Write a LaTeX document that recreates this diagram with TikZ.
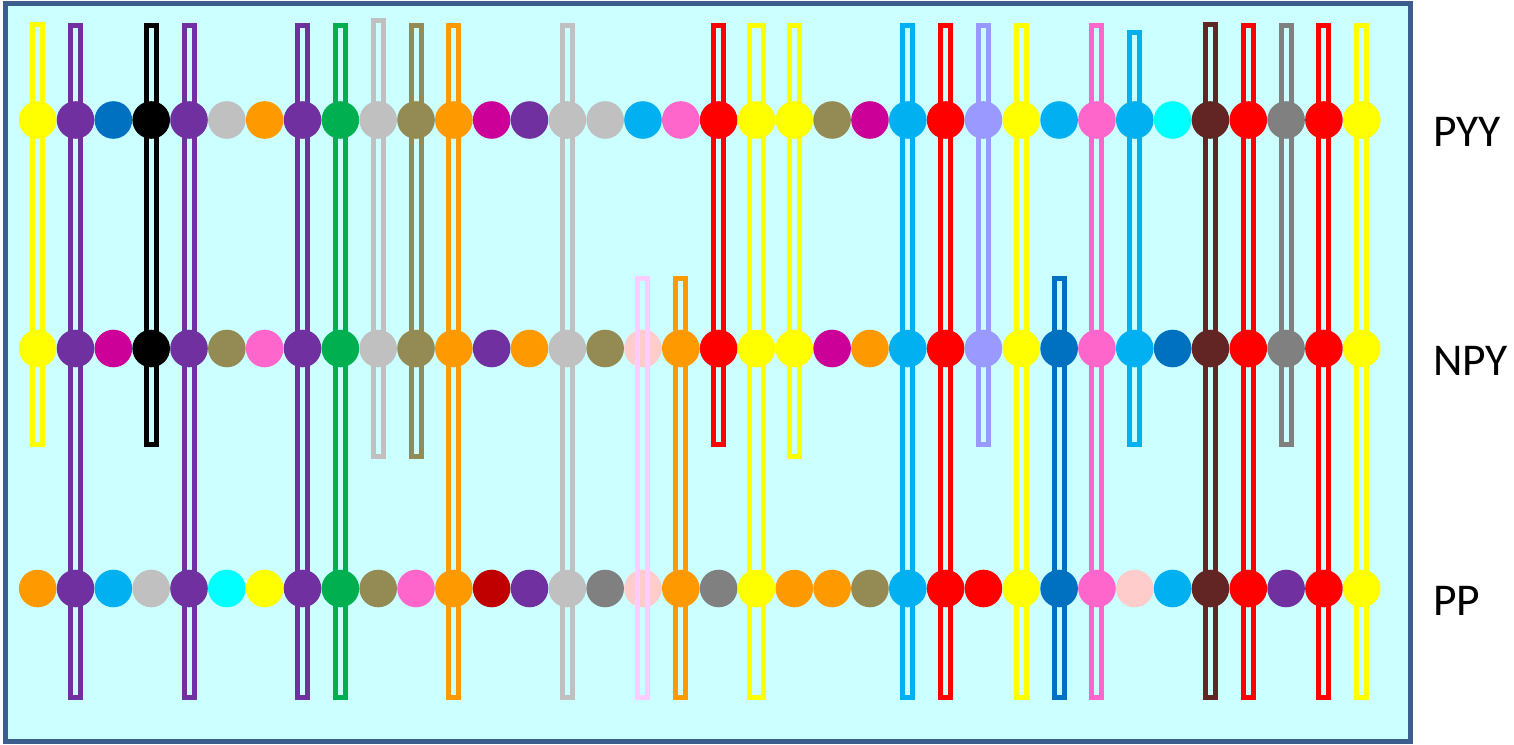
\documentclass[tikz,border=0pt]{standalone}
\usepackage{xcolor}
\usepackage{fontspec}
\setmainfont{Carlito}
\usepackage{tikz}
\usetikzlibrary{positioning}

\definecolor{bgcol}{HTML}{CCFFFF}
\definecolor{framecol}{HTML}{3B5E8C}
\definecolor{yel}{HTML}{FFFF00}
\definecolor{pur}{HTML}{7030A0}
\definecolor{blu}{HTML}{0070C0}
\definecolor{blk}{HTML}{000000}
\definecolor{sil}{HTML}{C0C0C0}
\definecolor{org}{HTML}{FF9900}
\definecolor{grn}{HTML}{00B050}
\definecolor{olv}{HTML}{948A54}
\definecolor{mag}{HTML}{CC0099}
\definecolor{sky}{HTML}{00B0F0}
\definecolor{pnk}{HTML}{FF66CC}
\definecolor{red}{HTML}{FF0000}
\definecolor{lav}{HTML}{9999FF}
\definecolor{aqu}{HTML}{00FFFF}
\definecolor{brn}{HTML}{632523}
\definecolor{gry}{HTML}{808080}
\definecolor{drd}{HTML}{C00000}
\definecolor{lpk}{HTML}{FFCCCC}
\definecolor{ppk}{HTML}{FFCCFF}

\begin{document}
\begin{tikzpicture}[x=1pt, y=-1pt,
    bead/.style={circle, fill=#1, minimum size=37.6pt, inner sep=0pt},
    bar/.style={draw=#1, line width=5pt},
    rowlabel/.style={anchor=base west, inner sep=0pt, font=\fontsize{45.5}{50}\selectfont}
]
    \useasboundingbox (0,0) rectangle (1514,744);

    % Frame
    \draw[fill=bgcol, draw=framecol, line width=5pt] (5,3) rectangle (1410,741);

    % PYY row
    \foreach \c [count=\i from 0] in {yel,pur,blu,blk,pur,sil,org,pur,grn,sil,olv,org,mag,pur,sil,sil,sky,pnk,red,yel,yel,olv,mag,sky,red,lav,yel,sky,pnk,sky,aqu,brn,red,gry,red,yel}
        \node[bead=\c] (pyy\i) at ({37.7+37.83*\i},120) {};

    % NPY row
    \foreach \c [count=\i from 0] in {yel,pur,mag,blk,pur,olv,pnk,pur,grn,sil,olv,org,pur,org,sil,olv,lpk,org,red,yel,yel,mag,org,sky,red,lav,yel,blu,pnk,sky,blu,brn,red,gry,red,yel}
        \node[bead=\c] (npy\i) at ({37.7+37.83*\i},348.5) {};

    % PP row
    \foreach \c [count=\i from 0] in {org,pur,sky,sil,pur,aqu,yel,pur,grn,olv,pnk,org,drd,pur,sil,gry,lpk,org,gry,yel,org,org,olv,sky,red,red,yel,blu,pnk,lpk,sky,brn,red,pur,red,yel}
        \node[bead=\c] (pp\i) at ({37.7+37.83*\i},588.5) {};

    % Bars (column / top / bottom / half width / colour)
    \foreach \k/\top/\bot/\w/\c in {0/21.7/447/5/yel, 1/23.3/700/5/pur, 3/23.3/447/5/blk, 4/23.3/700/5/pur,
        7/23.3/700/5/pur, 8/23.3/700/5/grn, 9/18.3/459/5/sil, 10/23.3/459/5/olv, 11/23.3/700/5/org,
        14/23.3/700/5/sil, 16/276/700/5/ppk, 17/276/700/5/org, 18/23.3/447/5/red, 19/23.3/700/7/yel,
        20/23.3/459/5/yel, 23/23.3/700/5/sky, 24/23.3/700/5/red, 25/23.3/447/5/lav, 26/23.3/700/5/yel,
        27/276/700/5/blu, 28/23.3/700/5/pnk, 29/30/447/5/sky, 31/21.7/700/5/brn, 32/23.3/700/5/red,
        33/23.3/447/5/gry, 34/23.3/700/5/red, 35/23.3/700/5/yel}
        \draw[bar=\c] ({37.7+37.83*\k-\w},{\top+2.5}) rectangle ({37.7+37.83*\k+\w},{\bot-2.5});

    % Row labels
    \node[rowlabel] (lblpyy) at (1433,146) {PYY};
    \node[rowlabel] (lblnpy) at (1433,375) {NPY};
    \node[rowlabel] (lblpp) at (1433,615) {PP};

\end{tikzpicture}
\end{document}
